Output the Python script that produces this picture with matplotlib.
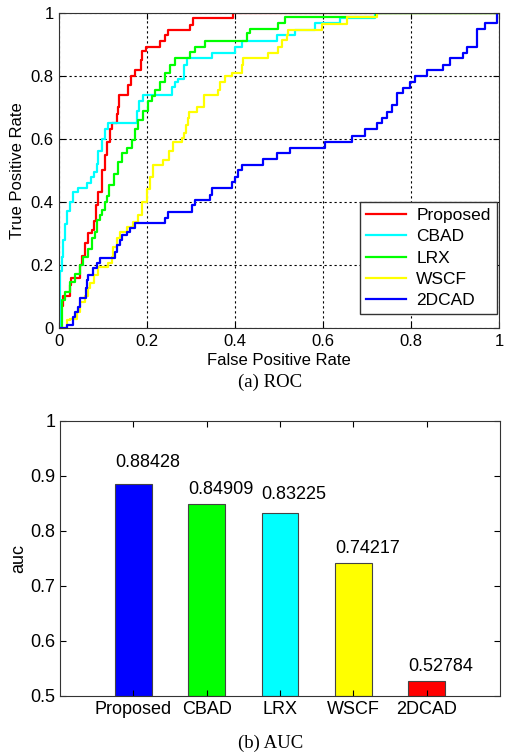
import numpy as np
import matplotlib
matplotlib.use("Agg")
import matplotlib.pyplot as plt
from matplotlib.ticker import FormatStrFormatter

plt.rcParams['font.family'] = ['Liberation Sans', 'DejaVu Sans']

# ROC curves (fpr, tpr) - tpr reached at each fpr step
roc_proposed_fpr = [0, 0.005, 0.009, 0.025, 0.027, 0.048, 0.052, 0.059, 0.066, 0.075, 0.080, 0.084, 0.089,
                    0.098, 0.105, 0.109, 0.116, 0.120, 0.132, 0.134, 0.136, 0.157, 0.164, 0.173, 0.186,
                    0.189, 0.198, 0.230, 0.241, 0.248, 0.298, 0.305, 0.395, 1.0]
roc_proposed_tpr = [0, 0.07, 0.10, 0.137, 0.16, 0.20, 0.23, 0.27, 0.30, 0.31, 0.34, 0.39, 0.43,
                    0.50, 0.55, 0.59, 0.63, 0.65, 0.68, 0.70, 0.74, 0.77, 0.80, 0.82, 0.85,
                    0.88, 0.89, 0.91, 0.93, 0.946, 0.96, 0.984, 1.0, 1.0]

roc_cbad_fpr = [0, 0.002, 0.007, 0.009, 0.014, 0.018, 0.025, 0.032, 0.043, 0.064, 0.073, 0.080, 0.086,
                0.089, 0.098, 0.105, 0.111, 0.177, 0.182, 0.191, 0.257, 0.264, 0.270, 0.284, 0.291,
                0.348, 0.400, 0.416, 0.495, 0.536, 0.582, 0.639, 0.718, 1.0]
roc_cbad_tpr = [0, 0.18, 0.225, 0.28, 0.33, 0.37, 0.40, 0.43, 0.445, 0.46, 0.48, 0.495, 0.52,
                0.56, 0.60, 0.63, 0.65, 0.69, 0.72, 0.74, 0.765, 0.78, 0.79, 0.835, 0.857,
                0.873, 0.89, 0.91, 0.93, 0.946, 0.968, 0.984, 1.0, 1.0]

roc_lrx_fpr = [0, 0.007, 0.014, 0.025, 0.036, 0.048, 0.055, 0.066, 0.075, 0.082, 0.086, 0.093, 0.098,
               0.105, 0.109, 0.114, 0.125, 0.134, 0.143, 0.155, 0.166, 0.173, 0.180, 0.191, 0.202,
               0.211, 0.218, 0.230, 0.241, 0.252, 0.264, 0.298, 0.309, 0.332, 0.427, 0.434, 0.498,
               0.514, 0.720, 1.0]
roc_lrx_tpr = [0, 0.09, 0.115, 0.146, 0.17, 0.20, 0.225, 0.25, 0.285, 0.305, 0.343, 0.36, 0.375,
               0.40, 0.42, 0.454, 0.49, 0.527, 0.555, 0.57, 0.597, 0.63, 0.66, 0.69, 0.72,
               0.735, 0.755, 0.78, 0.81, 0.835, 0.857, 0.876, 0.892, 0.91, 0.935, 0.95, 0.968,
               0.987, 1.0, 1.0]

roc_wscf_fpr = [0, 0.018, 0.025, 0.041, 0.048, 0.059, 0.066, 0.070, 0.080, 0.089, 0.111, 0.120, 0.123,
                0.132, 0.139, 0.155, 0.168, 0.180, 0.189, 0.200, 0.207, 0.214, 0.236, 0.250, 0.259,
                0.280, 0.284, 0.289, 0.293, 0.295, 0.314, 0.330, 0.361, 0.366, 0.377, 0.393, 0.416,
                0.418, 0.475, 0.498, 0.507, 0.518, 0.520, 0.598, 0.655, 0.723, 1.0]
roc_wscf_tpr = [0, 0.025, 0.03, 0.05, 0.083, 0.10, 0.127, 0.143, 0.168, 0.195, 0.206, 0.225, 0.257,
                0.285, 0.305, 0.32, 0.336, 0.36, 0.40, 0.44, 0.48, 0.517, 0.533, 0.56, 0.59,
                0.603, 0.62, 0.644, 0.667, 0.686, 0.70, 0.74, 0.756, 0.78, 0.80, 0.81, 0.835,
                0.857, 0.873, 0.89, 0.914, 0.93, 0.946, 0.965, 0.987, 1.0, 1.0]

roc_2dcad_fpr = [0, 0.018, 0.032, 0.036, 0.043, 0.048, 0.061, 0.064, 0.066, 0.077, 0.086, 0.093, 0.127,
                 0.132, 0.139, 0.143, 0.155, 0.161, 0.173, 0.241, 0.248, 0.302, 0.309, 0.343, 0.348,
                 0.393, 0.400, 0.407, 0.416, 0.464, 0.495, 0.525, 0.605, 0.666, 0.695, 0.723, 0.734,
                 0.745, 0.757, 0.768, 0.782, 0.798, 0.810, 0.836, 0.873, 0.889, 0.918, 0.927, 0.950,
                 0.968, 0.995, 1.0]
roc_2dcad_tpr = [0, 0.01, 0.035, 0.05, 0.067, 0.095, 0.127, 0.152, 0.168, 0.19, 0.206, 0.222, 0.241,
                 0.263, 0.279, 0.295, 0.305, 0.317, 0.333, 0.349, 0.368, 0.39, 0.406, 0.422, 0.444,
                 0.463, 0.48, 0.50, 0.517, 0.536, 0.556, 0.571, 0.59, 0.61, 0.63, 0.65, 0.667,
                 0.686, 0.708, 0.746, 0.762, 0.78, 0.80, 0.82, 0.835, 0.857, 0.873, 0.89, 0.95,
                 0.968, 1.0, 1.0]

roc_names = ['Proposed', 'CBAD', 'LRX', 'WSCF', '2DCAD']
roc_colors = ['#ff0000', '#00ffff', '#00ff00', '#ffff00', '#0000ff']
roc_data = [(roc_proposed_fpr, roc_proposed_tpr), (roc_cbad_fpr, roc_cbad_tpr),
            (roc_lrx_fpr, roc_lrx_tpr), (roc_wscf_fpr, roc_wscf_tpr),
            (roc_2dcad_fpr, roc_2dcad_tpr)]

# AUC bars
auc_names = ['Proposed', 'CBAD', 'LRX', 'WSCF', '2DCAD']
auc_values = [0.88428, 0.84909, 0.83225, 0.74217, 0.52784]
auc_colors = ['#0000ff', '#00ff00', '#00ffff', '#ffff00', '#ff0000']
label_gap = [0.025, 0.011, 0.018, 0.011, 0.010]

fig = plt.figure(figsize=(5.05, 7.54), dpi=100)

# ---- (a) ROC ----
ax1 = fig.add_axes([0.117, 0.565, 0.871, 0.418])
for (fx, ty), name, col in zip(roc_data, roc_names, roc_colors):
    ax1.plot(fx, ty, drawstyle='steps-post', color=col, lw=1.6, label=name)
ax1.set_xlim(0, 1)
ax1.set_ylim(0, 1)
ax1.set_xticks(np.arange(0, 1.01, 0.2))
ax1.set_yticks(np.arange(0, 1.01, 0.2))
ax1.xaxis.set_major_formatter(FormatStrFormatter('%g'))
ax1.yaxis.set_major_formatter(FormatStrFormatter('%g'))
ax1.grid(True, color='black', linestyle=(0, (2, 2.5)), lw=0.8)
ax1.tick_params(direction='in', top=True, right=True, labelsize=12, length=4, pad=4)
ax1.set_xlabel('False Positive Rate', fontsize=12, labelpad=3)
ax1.set_ylabel('True Positive Rate', fontsize=12, labelpad=4)
for s in ax1.spines.values():
    s.set_color('#333333')
leg = ax1.legend(loc='lower right', bbox_to_anchor=(0.995, 0.044), fontsize=12.5,
                 fancybox=False, framealpha=1, edgecolor='#333333', handlelength=2.3,
                 borderaxespad=0, labelspacing=0.35, borderpad=0.35, handletextpad=0.6)
leg.get_frame().set_linewidth(1.0)

fig.text(0.535, 0.493, '(a) ROC', family='Liberation Serif', fontsize=13.5,
         ha='center', va='center')

# ---- (b) AUC ----
ax2 = fig.add_axes([0.119, 0.077, 0.871, 0.365])
pos = np.arange(1, len(auc_values) + 1)
ax2.bar(pos, np.array(auc_values) - 0.5, bottom=0.5, width=0.5, color=auc_colors,
        edgecolor='#444444', linewidth=0.8)
for p, v, g in zip(pos, auc_values, label_gap):
    ax2.text(p - 0.25, v + g, '%.5f' % v, fontsize=13, ha='left', va='bottom')
ax2.set_xlim(0, 6)
ax2.set_ylim(0.5, 1)
ax2.set_xticks(pos)
ax2.set_xticklabels(auc_names)
ax2.set_yticks(np.arange(0.5, 1.01, 0.1))
ax2.yaxis.set_major_formatter(FormatStrFormatter('%g'))
ax2.tick_params(direction='in', top=True, right=True, labelsize=13, length=4)
ax2.set_ylabel('auc', fontsize=13, labelpad=2)
for s in ax2.spines.values():
    s.set_color('#333333')

fig.text(0.535, 0.014, '(b) AUC', family='Liberation Serif', fontsize=13.5,
         ha='center', va='center')

fig.savefig('out.png', dpi=100)
